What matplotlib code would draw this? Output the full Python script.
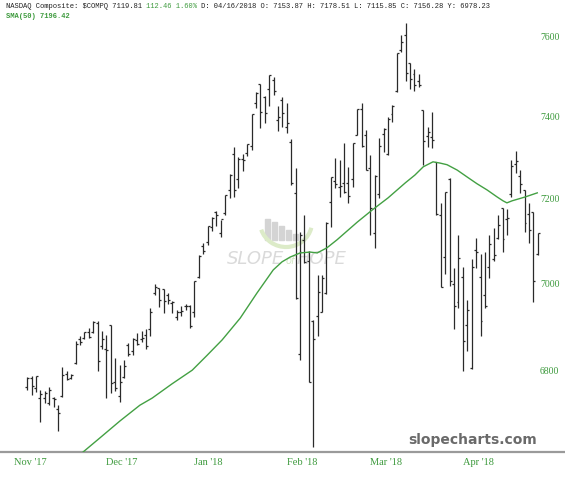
import numpy as np
import pandas as pd
import matplotlib.pyplot as plt
import matplotlib.transforms as mtransforms
import matplotlib.patches as mpatches

# trading calendar (NYSE holidays removed)
holidays = ['2017-11-23', '2017-12-25', '2018-01-01', '2018-01-15', '2018-02-19', '2018-03-30']
days = pd.bdate_range('2017-11-01', '2018-04-25', freq='C', holidays=holidays)
first_bar = '2017-11-06'

# daily OHLC, Nov 6 2017 .. Apr 25 2018
opens = [6765, 6785, 6762, 6740, 6740, 6728, 6740, 6715, 6745, 6795, 6785, 6820, 6873, 6876, 6890,
         6890, 6910, 6858, 6850, 6905, 6777, 6745, 6787, 6860, 6847, 6871, 6875, 6883, 6898, 6980,
         6991, 6989, 6975, 6956, 6925, 6935, 6950, 6951, 6937, 7018, 7090, 7100, 7136, 7171, 7121,
         7169, 7224, 7310, 7250, 7300, 7313, 7330, 7436, 7483, 7450, 7472, 7494, 7394, 7445, 7376,
         7340, 7217, 6840, 7105, 7055, 6915, 6926, 6937, 6980, 7196, 7245, 7232, 7240, 7240, 7250,
         7358, 7422, 7358, 7276, 7120, 7214, 7360, 7310, 7409, 7465, 7570, 7606, 7536, 7508, 7492,
         7420, 7354, 7352, 7292, 7165, 7065, 7251, 7000, 6960, 7017, 6906, 6808, 7082, 7017, 6976,
         7041, 7060, 7110, 7180, 7154, 7215, 7286, 7258, 7224, 7166, 7171, 7072]
highs = [6788, 6790, 6790, 6758, 6755, 6765, 6743, 6725, 6810, 6800, 6795, 6869, 6880, 6890, 6900,
         6915, 6915, 6892, 6884, 6905, 6830, 6815, 6827, 6865, 6876, 6888, 6893, 6898, 6945, 7001,
         6991, 6989, 6980, 6962, 6940, 6950, 6955, 6952, 7007, 7069, 7097, 7138, 7160, 7174, 7152,
         7212, 7262, 7329, 7304, 7310, 7336, 7408, 7463, 7483, 7454, 7506, 7500, 7430, 7450, 7437,
         7348, 7277, 7124, 7163, 7078, 6917, 7023, 7023, 7148, 7256, 7302, 7297, 7339, 7280, 7337,
         7421, 7437, 7370, 7309, 7261, 7350, 7374, 7402, 7432, 7562, 7608, 7637, 7537, 7520, 7508,
         7420, 7377, 7413, 7292, 7193, 7220, 7253, 7038, 7117, 7040, 6964, 7059, 7109, 7071, 7076,
         7117, 7133, 7164, 7181, 7179, 7296, 7318, 7272, 7224, 7192, 7171, 7121]
lows = [6758, 6746, 6754, 6686, 6728, 6725, 6719, 6666, 6743, 6780, 6783, 6818, 6860, 6874, 6876,
        6888, 6800, 6850, 6740, 6751, 6757, 6732, 6786, 6835, 6837, 6860, 6866, 6852, 6882, 6976,
        6947, 6934, 6955, 6934, 6917, 6928, 6940, 6900, 6924, 7016, 7072, 7092, 7125, 7138, 7112,
        7164, 7205, 7207, 7229, 7270, 7305, 7321, 7423, 7374, 7387, 7430, 7455, 7368, 7376, 7362,
        7236, 6967, 6826, 7050, 6776, 6631, 6880, 6937, 6977, 7136, 7229, 7207, 7216, 7193, 7231,
        7358, 7328, 7272, 7117, 7086, 7205, 7316, 7309, 7390, 7463, 7565, 7492, 7472, 7465, 7475,
        7285, 7328, 7325, 7164, 6993, 7024, 6996, 6898, 6946, 6802, 6846, 6806, 7038, 6882, 6946,
        7016, 7054, 7106, 7076, 7116, 7207, 7266, 7217, 7124, 7097, 6960, 7068]
closes = [6786, 6768, 6789, 6750, 6751, 6758, 6738, 6706, 6793, 6783, 6791, 6862, 6867, 6889, 6879,
          6912, 6824, 6874, 6848, 6775, 6762, 6776, 6813, 6840, 6875, 6862, 6876, 6857, 6937, 6995,
          6964, 6961, 6965, 6960, 6936, 6939, 6950, 6903, 7007, 7066, 7078, 7137, 7157, 7164, 7154,
          7212, 7261, 7224, 7298, 7296, 7336, 7408, 7460, 7415, 7411, 7506, 7467, 7402, 7411, 7386,
          7241, 6968, 7116, 7052, 6777, 6874, 6982, 7014, 7144, 7256, 7239, 7234, 7218, 7210, 7337,
          7421, 7330, 7273, 7181, 7258, 7331, 7372, 7397, 7428, 7561, 7588, 7511, 7497, 7482, 7482,
          7344, 7364, 7345, 7167, 6993, 7220, 7009, 6949, 7063, 6870, 6941, 7042, 7077, 6915, 6950,
          7094, 7069, 7140, 7107, 7156, 7281, 7295, 7238, 7146, 7129, 7007, 7120]

# SMA(50) as traced on the chart (position in trading days from Nov 1)
sma_pos = [15.7, 19.5, 24.1, 28.6, 31.4, 35.9, 40.5, 43.9, 47.3, 51.4, 55.2, 58.9, 60.9, 62.7,
           65.0, 67.3, 68.9, 71.1, 73.4, 75.7, 78.0, 81.4, 85.0, 88.9, 91.1, 93.0, 95.2, 96.8,
           98.4, 100.7, 103.0, 105.2, 107.5, 109.8, 111.1, 112.0, 113.2, 114.5, 116.1, 117.5, 118.9]
sma_val = [6620, 6651, 6689, 6724, 6740, 6772, 6803, 6837, 6872, 6922, 6980, 7034, 7053, 7064,
           7074, 7076, 7074, 7086, 7105, 7126, 7147, 7176, 7205, 7241, 7260, 7280, 7292, 7289,
           7285, 7272, 7255, 7239, 7224, 7207, 7198, 7193, 7198, 7202, 7207, 7212, 7217]

month_labels = ["Nov '17", "Dec '17", "Jan '18", "Feb '18", "Mar '18", "Apr '18"]
price_ticks = [6800, 7000, 7200, 7400, 7600]

green = '#3d9a3d'
bar_col = '#2a2a2a'

fig = plt.figure(figsize=(5.65, 4.80), dpi=100)
ax = fig.add_axes([0, 28 / 480, 1, 452 / 480])
ax.set_yscale('log')
ax.set_ylim(6620, 7696)
ax.set_xlim(-3.18, 125.2)

x = np.arange(len(closes)) + days.get_loc(pd.Timestamp(first_bar))
tick = 0.45
ax.vlines(x, lows, highs, color=bar_col, lw=0.9, zorder=3)
ax.hlines(opens, x - tick, x, color=bar_col, lw=0.9, zorder=3)
ax.hlines(closes, x, x + tick, color=bar_col, lw=0.9, zorder=3)

ax.plot(sma_pos, sma_val, color='#43a043', lw=1.0, zorder=4)

# axes cosmetics
for s in ['top', 'left', 'right']:
    ax.spines[s].set_visible(False)
ax.spines['bottom'].set_color('#9a9a9a')
ax.spines['bottom'].set_linewidth(1.6)
ax.set_xticks([])
ax.set_yticks([])
ax.yaxis.set_minor_locator(plt.NullLocator())

ytrans = mtransforms.blended_transform_factory(ax.transAxes, ax.transData)
for v in price_ticks:
    ax.text(0.973, v, str(v), transform=ytrans, ha='center', va='center',
            color=green, fontsize=7, family='Liberation Serif', zorder=5)

month_starts = days.to_series().groupby([days.year, days.month]).first()
xtrans = mtransforms.blended_transform_factory(ax.transData, ax.transAxes)
for d, lab in zip(month_starts, month_labels):
    ax.text(days.get_loc(d), -0.024, lab, transform=xtrans, ha='left', va='center',
            color=green, fontsize=7.5, family='Liberation Serif', clip_on=False)

# watermark logo
W, H = 565.0, 480.0
for bx, top in [(265, 219), (272, 222), (279, 226), (286, 230), (293, 234)]:
    ax.add_patch(mpatches.Rectangle((bx / W, 1 - 240 / H), 5 / W, (240 - top) / H,
                                    transform=fig.transFigure, color='#d4d4d4', zorder=1))
ax.add_patch(mpatches.Arc((286 / W, 1 - 222 / H), 52 / W, 50 / H, theta1=200, theta2=345,
                          transform=fig.transFigure, color='#dcebc8', lw=3, zorder=1))
ax.text(227 / W, 1 - 259 / H, 'SLOPE', transform=fig.transFigure, fontsize=13,
        style='italic', color='#dadada', family='DejaVu Sans', va='center', zorder=1)
ax.text(286 / W, 1 - 261 / H, 'of', transform=fig.transFigure, fontsize=7,
        style='italic', color='#d3e6c4', family='DejaVu Sans', va='center', zorder=1)
ax.text(297 / W, 1 - 259 / H, 'HOPE', transform=fig.transFigure, fontsize=13,
        style='italic', color='#dadada', family='DejaVu Sans', va='center', zorder=1)

fig.text(537 / W, 1 - 440 / H, 'slopecharts.com', ha='right', va='center', fontsize=10,
         fontweight='bold', color='#6a6a6a', family='DejaVu Sans')

# header
cw = 4.23
parts = [('NASDAQ Composite: \\$COMPQ 7119.81 ', 0, '#222222'),
         ('112.46 1.60%', 33, green),
         ('D: 04/16/2018 O: 7153.87 H: 7178.51 L: 7115.85 C: 7156.28 Y: 6978.23', 46, '#222222')]
for txt, col0, c in parts:
    fig.text((6 + col0 * cw) / W, 1 - 6 / H, txt, ha='left', va='center', fontsize=5.1,
             family='Liberation Mono', color=c)
fig.text(6 / W, 1 - 17 / H, 'SMA(50) 7196.42', ha='left', va='center', fontsize=5.1,
         family='Liberation Mono', color=green, fontweight='bold')

fig.savefig('out.png', dpi=100)
